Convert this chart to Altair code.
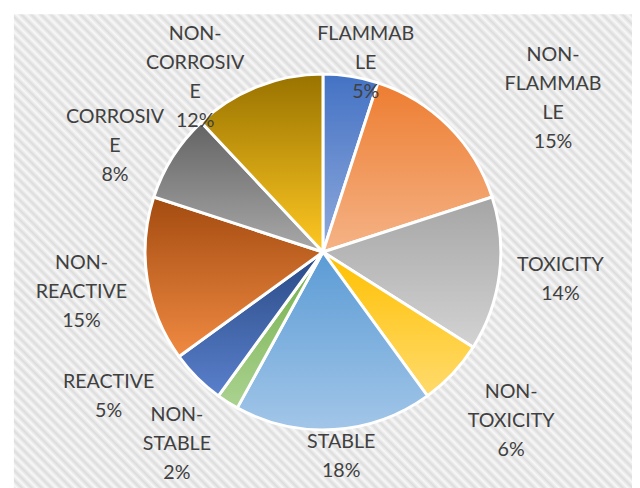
import altair as alt
import pandas as pd

# ---- data -------------------------------------------------------------
categories = ["FLAMMABLE", "NON-FLAMMABLE", "TOXICITY", "NON-TOXICITY", "STABLE",
              "NON-STABLE", "REACTIVE", "NON-REACTIVE", "CORROSIVE", "NON-CORROSIVE"]
values = [5, 15, 14, 6, 18, 2, 5, 15, 8, 12]
# category names as wrapped in the original labels
label_names = ["FLAMMAB\nLE", "NON-\nFLAMMAB\nLE", "TOXICITY", "NON-\nTOXICITY", "STABLE",
               "NON-\nSTABLE", "REACTIVE", "NON-\nREACTIVE", "CORROSIV\nE", "NON-\nCORROSIV\nE"]

# ---- style ------------------------------------------------------------
top_colors = ["#4472C4", "#ED7D31", "#A5A5A5", "#FFC000", "#5B9BD5",
              "#70AD47", "#2A4A85", "#A34B10", "#636363", "#997300"]
bottom_colors = ["#8FAADC", "#F5B386", "#D3D3D3", "#FFDB6E", "#A2C6E8",
                 "#ABD391", "#5A80CC", "#F08A42", "#A9A9A9", "#FFC822"]

# label placement (Excel "best fit") of each label's first line:
# radius in px, angular nudge from the slice middle in degrees
label_radius = [226, 308, 242, 239, 194, 223, 255, 246, 252, 257]
label_shift_deg = [2.1, 4.5, -4.1, -6.45, -1.9, 9.4, 13.8, 6.4, 0.5, -8.8]

W, H = 629, 484
total = sum(values)

df = pd.DataFrame({"category": categories, "value": values})
df["end"] = df["value"].cumsum()
df["start"] = df["end"] - df["value"]
df["label"] = [f"{n}\n{v}%" for n, v in zip(label_names, values)]
df["label_pos"] = (df["start"] + df["end"]) / 2 + pd.Series(label_shift_deg) * total / 360
df["label_r"] = label_radius

theta_scale = alt.Scale(domain=[0, total], range=[0, 6.283185307179586])

# ---- striped background (diagonal, via a many-stop gradient) ----------
n = round((W + H) / 10)
stops = []
for i in range(n):
    stops.append({"offset": i / n, "color": "#dcdcdc"})
    stops.append({"offset": (i + 0.5) / n, "color": "#f8f8f8"})
stops.append({"offset": 1, "color": "#dcdcdc"})
k = (H + W) * W / (H * H + W * W)
bg_grad = {"gradient": "linear", "x1": 0, "y1": 1, "x2": k, "y2": 1 - k * H / W, "stops": stops}

bg = alt.Chart(pd.DataFrame({"one": [1]})).mark_rect(fill=bg_grad)

layers = [bg]
for cat, t, b in zip(categories, top_colors, bottom_colors):
    grad = {"gradient": "linear", "x1": 0, "y1": 0, "x2": 0, "y2": 1,
            "stops": [{"offset": 0, "color": t}, {"offset": 1, "color": b}]}
    layers.append(
        alt.Chart(df)
        .transform_filter(alt.datum.category == cat)
        .mark_arc(fill=grad, stroke="white", strokeWidth=3, outerRadius=181)
        .encode(theta=alt.Theta("start:Q", scale=theta_scale), theta2="end:Q")
    )

text = alt.Chart(df).mark_text(
    lineBreak="\n", font="Lato", fontSize=20, color="#404040",
    lineHeight=29.5, align="center", baseline="middle"
).encode(
    theta=alt.Theta("label_pos:Q", scale=theta_scale),
    radius=alt.Radius("label_r:Q", scale=None),
    text="label:N",
)
layers.append(text)

chart = alt.layer(*layers).properties(
    width=W, height=H,
    padding={"left": 6, "top": 2, "right": 0, "bottom": 0},
).configure_view(stroke="#d9d9d9", strokeWidth=1.5)

chart.save("out.html", embed_options={"renderer": "svg", "actions": False})
